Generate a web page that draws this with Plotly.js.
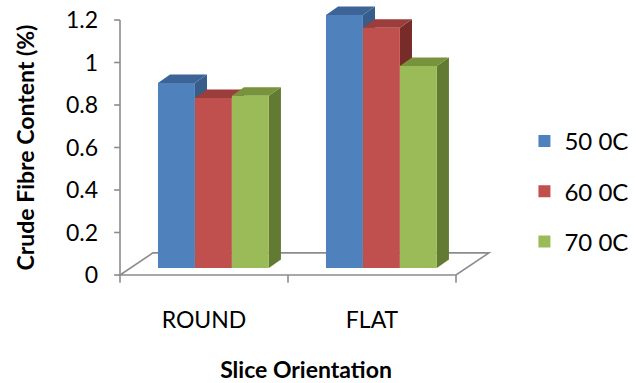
<!DOCTYPE html>
<html><head><meta charset="utf-8">
<script src="https://cdn.plot.ly/plotly-3.0.1.min.js"></script>
<style>body{margin:0;background:#fff}#chart{width:636px;height:383px}</style>
</head><body><div id="chart"></div>
<script>
// ---- data ----
const categories = ['ROUND', 'FLAT'];
const seriesNames = ['50 0C', '60 0C', '70 0C'];
const s50 = [0.87, 1.19];
const s60 = [0.80, 1.13];
const s70 = [0.81, 0.95];
const yTickVals = [0, 0.2, 0.4, 0.6, 0.8, 1, 1.2];
const yTickText = ['0', '0.2', '0.4', '0.6', '0.8', '1', '1.2'];

// ---- styling / geometry ----
const series = [s50, s60, s70];
const frontCol = ['#4F81BD', '#C0504D', '#9BBB59'];
const topCol = ['#3D6496', '#9B3D3B', '#77933C'];
const sideCol = ['#385D8A', '#772C2A', '#627A31'];
const gray = '#8C8C8C';
const FONT = 'Lato, "Open Sans", sans-serif';

const BASE = 0.033;
const BW = 0.22;
const OFFS = [-0.274, -0.054, 0.166];
const DX = 0.072, DY = 0.040;
const FDX = 0.196, FDY = 0.104;
const X0 = -0.5, X1 = categories.length - 0.5;

const xIdx = categories.map((c, i) => i);

const traces = series.map((vals, i) => ({
  type: 'bar',
  x: xIdx,
  y: vals,
  base: BASE,
  offset: OFFS[i],
  width: BW,
  name: seriesNames[i],
  legendgroup: 'g' + i,
  marker: { color: frontCol[i], line: { width: 0 } },
  cliponaxis: false,
  hoverinfo: 'y+name'
}));

const shapes = [];
shapes.push({
  type: 'path', xref: 'x', yref: 'y', layer: 'below',
  path: `M${X0},0 L${X1},0 L${X1 + FDX},${FDY} L${X0 + FDX},${FDY} Z`,
  line: { color: gray, width: 1.6 }
});
shapes.push({ type: 'line', xref: 'x', yref: 'y', layer: 'below',
  x0: X0, x1: X0, y0: 0, y1: yTickVals[yTickVals.length - 1], line: { color: gray, width: 1.6 } });
yTickVals.forEach(v => shapes.push({ type: 'line', xref: 'x', yref: 'y', layer: 'below',
  x0: X0 - 0.035, x1: X0, y0: v, y1: v, line: { color: gray, width: 1.6 } }));
for (let k = 0; k <= categories.length; k++) {
  shapes.push({ type: 'line', xref: 'x', yref: 'y', layer: 'below',
    x0: X0 + k, x1: X0 + k, y0: 0, y1: -0.036, line: { color: gray, width: 1.6 } });
}
categories.forEach((c, j) => {
  series.forEach((vals, i) => {
    const xl = j + OFFS[i], xr = xl + BW, yb = BASE, yt = BASE + vals[j];
    shapes.push({ type: 'path', xref: 'x', yref: 'y', layer: 'below',
      path: `M${xr},${yb} L${xr + DX},${yb + DY} L${xr + DX},${yt + DY} L${xr},${yt} Z`,
      fillcolor: sideCol[i], line: { width: 0 } });
    shapes.push({ type: 'path', xref: 'x', yref: 'y', layer: 'below',
      path: `M${xl},${yt} L${xl + DX},${yt + DY} L${xr + DX},${yt + DY} L${xr},${yt} Z`,
      fillcolor: topCol[i], line: { width: 0 } });
  });
});

const layout = {
  width: 636, height: 383,
  margin: { l: 112, r: 136, t: 5, b: 93, autoexpand: false },
  paper_bgcolor: '#fff', plot_bgcolor: 'rgba(0,0,0,0)',
  barmode: 'overlay',
  showlegend: true,
  font: { family: FONT, color: '#000', size: 23 },
  xaxis: {
    range: [-0.5476, 1.7619], showgrid: false, zeroline: false, showline: false,
    tickvals: xIdx, ticktext: categories, ticks: '', ticklabelstandoff: 14,
    tickfont: { family: FONT, size: 23, color: '#000' },
    title: { text: 'Slice Orientation', font: { family: FONT, size: 23, weight: 'bold', color: '#000' }, standoff: 30 },
    fixedrange: true
  },
  yaxis: {
    range: [-0.0706, 1.2706], showgrid: false, zeroline: false, showline: false,
    tickvals: yTickVals, ticktext: yTickText, ticks: '', ticklabelstandoff: 13,
    tickfont: { family: FONT, size: 23, color: '#000' },
    title: { text: 'Crude Fibre Content (%)', font: { family: FONT, size: 23, weight: 'bold', color: '#000' }, standoff: 24 },
    fixedrange: true
  },
  legend: {
    x: 1.063, xanchor: 'left', y: 0.60, yanchor: 'top',
    font: { family: FONT, size: 24, color: '#000' },
    tracegroupgap: 16, traceorder: 'grouped',
    bgcolor: 'rgba(0,0,0,0)'
  },
  shapes: shapes
};

Plotly.newPlot('chart', traces, layout, { displayModeBar: false, staticPlot: true });
</script>
</body></html>
